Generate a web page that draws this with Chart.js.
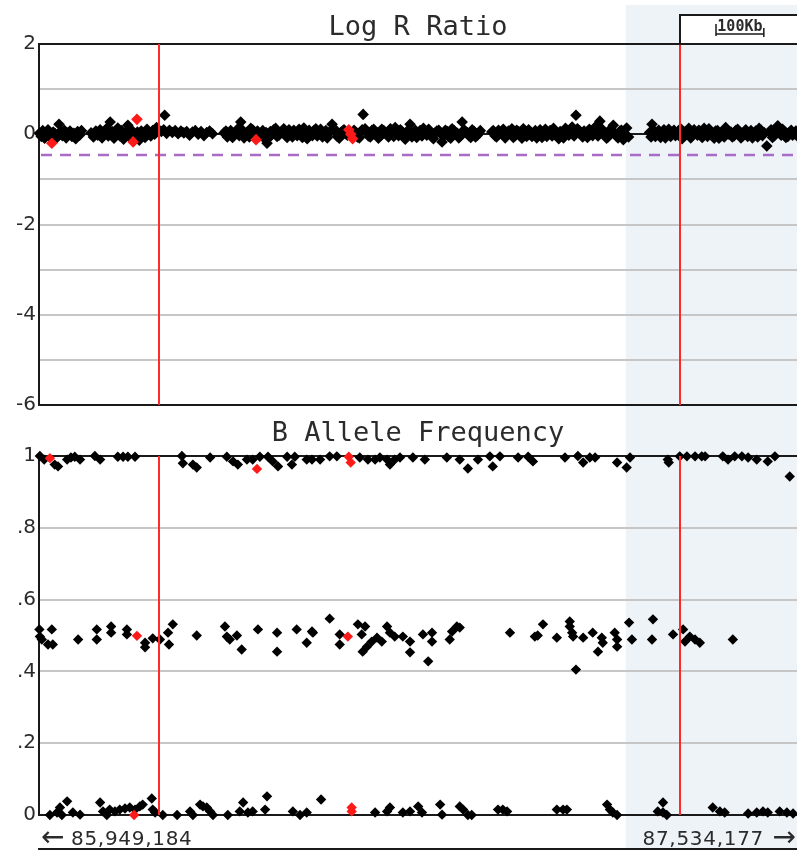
<!DOCTYPE html>
<html>
<head>
<meta charset="utf-8">
<script src="https://cdn.jsdelivr.net/npm/chart.js@4.4.1/dist/chart.umd.min.js"></script>
<style>
  html, body { margin: 0; padding: 0; background: #fff; }
  #wrap { position: relative; width: 797px; height: 852px; overflow: hidden; }
  canvas { position: absolute; left: 0; }
  #lrr { top: 0; }
  #baf { top: 420px; }
</style>
</head>
<body>
<div id="wrap">
  <canvas id="lrr" width="797" height="420"></canvas>
  <canvas id="baf" width="797" height="432"></canvas>
</div>
<script>
// Genomic window (kb)
const windowStart = 85949.184;
const windowEnd = 87534.177;

// Breakpoint markers and highlighted segment (kb)
const markerPositions = [86200, 87289];
const highlightRegion = [87176, 87560];

// Log R Ratio threshold
const lrrThreshold = -0.46;

// Axis tick labels
const lrrTickLabels = [2, 0, -2, -4, -6];
const bafTickLabels = ['0', '.2', '.4', '.6', '.8', '1'];

// Scale bar length (kb)
const scaleBarKb = 100;

// Log R Ratio probes [position kb, value]
const lrrPoints = [
  [85950,0.02],[85954,-0.05],[85957,0.08],[85961,-0.09],[85964,0.04],[85968,0.10],[85972,-0.04],[85976,-0.11],
  [85979,0.05],[85983,0.01],[85987,-0.07],[85991,0.22],[85994,0.06],[85998,-0.03],[86002,0.09],[86006,-0.08],
  [86010,0.03],[86014,0.07],[86018,-0.05],[86022,0.02],[86026,-0.10],[86030,0.06],[86034,-0.02],[86038,0.08],
  [86058,0.03],[86063,-0.06],[86068,0.07],[86072,-0.02],[86077,0.10],[86081,-0.08],[86086,0.05],[86090,0.12],
  [86094,-0.04],[86098,0.27],[86102,0.06],[86106,-0.09],[86110,0.03],[86114,0.14],[86118,-0.03],[86122,0.08],
  [86126,-0.11],[86130,0.04],[86135,0.20],[86139,-0.06],[86143,0.09],[86147,0.01],[86151,-0.10],[86155,0.05],
  [86159,-0.13],[86163,0.07],[86167,0.02],[86171,-0.07],[86175,0.11],[86179,0.03],[86183,-0.04],[86187,0.08],
  [86191,0.00],[86195,0.15],
  [86205,0.06],[86210,0.10],[86212,0.42],[86216,0.02],[86222,0.09],[86228,0.04],[86234,0.08],[86240,0.01],
  [86246,0.07],[86252,0.03],[86258,0.06],[86264,-0.02],[86270,0.05],[86276,0.08],[86282,0.00],[86288,0.06],
  [86294,-0.03],[86300,0.04],[86306,0.07],[86312,0.01],
  [86336,0.03],[86343,-0.06],[86350,0.08],[86357,-0.02],[86364,0.11],[86371,0.27],[86378,-0.08],[86385,0.05],
  [86392,0.13],[86399,-0.04],[86406,0.07],[86413,0.01],[86420,-0.09],[86426,-0.20],[86433,0.06],[86440,0.10],
  [86447,-0.05],[86454,0.04],[86461,0.12],[86468,-0.07],[86475,0.02],[86482,0.09],[86489,-0.03],[86496,0.06],
  [86503,0.14],[86510,-0.10],[86517,0.03],[86524,0.08],[86531,-0.04],[86538,0.11],[86545,0.00],[86552,-0.08],
  [86559,0.07],[86562,0.22],[86566,0.13],[86573,-0.05],[86580,0.04],[86587,0.10],[86594,-0.02],[86608,0.09],
  [86615,-0.06],[86622,0.05],[86627,0.44],[86631,0.12],[86638,-0.04],[86645,0.08],[86652,0.02],[86659,-0.09],
  [86666,0.11],[86673,0.04],[86680,-0.06],[86687,0.09],[86694,0.15],[86701,-0.03],[86708,0.06],[86715,-0.11],
  [86722,0.10],[86725,0.22],[86732,0.03],[86739,-0.07],[86746,0.08],[86753,0.13],[86760,-0.02],[86767,0.05],
  [86774,-0.10],[86781,0.07],[86788,0.02],[86792,-0.17],[86799,0.09],[86806,-0.05],[86813,0.12],[86820,0.04],
  [86827,-0.08],[86834,0.27],[86841,0.06],[86848,-0.03],[86855,0.10],[86862,-0.06],[86869,0.04],
  [86340,0.07],[86347,0.01],[86354,-0.07],[86361,0.05],[86368,-0.03],[86375,0.09],[86382,0.02],[86389,-0.06],
  [86396,0.10],[86403,0.03],[86410,-0.05],[86417,0.08],[86424,0.04],[86430,-0.08],[86437,0.01],[86444,0.13],
  [86451,-0.02],[86458,0.07],[86465,0.00],[86472,0.10],[86479,-0.06],[86486,0.04],[86493,0.11],[86500,-0.07],
  [86507,0.05],[86514,0.09],[86521,-0.03],[86528,0.12],[86535,0.02],[86542,-0.06],[86549,0.08],[86556,0.03],
  [86570,0.06],[86577,-0.09],[86584,0.07],[86591,0.01],[86612,0.04],[86619,-0.08],[86625,0.10],[86635,0.06],
  [86642,-0.06],[86649,0.11],[86656,0.03],[86663,-0.04],[86670,0.08],[86677,0.00],[86684,0.12],[86691,-0.05],
  [86698,0.06],[86705,0.10],[86712,-0.02],[86719,0.04],[86729,-0.06],[86736,0.09],[86743,0.01],[86750,-0.04],
  [86757,0.07],[86764,0.11],[86771,-0.06],[86778,0.03],[86785,0.09],[86796,-0.03],[86803,0.06],[86810,-0.09],
  [86817,0.08],[86824,0.02],[86831,-0.04],[86838,0.10],[86845,0.03],[86852,-0.07],[86859,0.06],[86866,-0.02],
  [86872,0.08],
  [86896,0.05],[86903,-0.04],[86910,0.09],[86917,0.01],[86924,-0.08],[86931,0.07],[86938,0.12],[86945,-0.03],
  [86952,0.06],[86959,-0.09],[86966,0.04],[86973,0.10],[86980,-0.05],[86987,0.08],[86994,0.02],[87001,-0.07],
  [87008,0.11],[87015,0.03],[87022,-0.04],[87029,0.07],[87036,-0.10],[87043,0.05],[87050,0.13],[87057,-0.02],
  [87064,0.16],[87072,0.42],[87079,0.08],[87086,-0.06],[87093,0.04],[87100,0.11],[87107,-0.03],[87114,0.18],
  [87122,0.29],[87129,0.06],[87136,-0.09],[87143,0.10],[87150,0.20],[87157,-0.05],[87164,0.07],[87171,-0.12],
  [87178,0.14],
  [86899,0.08],[86906,-0.06],[86913,0.03],[86920,0.11],[86927,-0.02],[86934,0.05],[86941,-0.07],[86948,0.09],
  [86955,0.02],[86962,0.12],[86969,-0.05],[86976,0.06],[86983,0.01],[86990,-0.08],[86997,0.10],[87004,0.04],
  [87011,-0.05],[87018,0.08],[87025,0.13],[87032,-0.02],[87039,0.06],[87046,-0.08],[87053,0.09],[87060,0.03],
  [87068,-0.04],[87075,0.12],[87082,0.01],[87089,0.07],[87096,-0.07],[87103,0.05],[87110,0.10],[87118,-0.04],
  [87125,0.13],[87132,0.02],[87139,-0.06],[87146,0.08],[87153,0.03],[87160,-0.08],[87167,0.09],[87174,0.01],
  [87182,-0.06],
  [87226,0.04],[87231,0.22],[87238,-0.05],[87245,0.09],[87252,0.02],[87259,-0.08],[87266,0.11],[87273,0.05],
  [87280,-0.03],[87287,0.08],[87294,-0.10],[87301,0.06],[87308,0.13],[87315,-0.04],[87322,0.03],[87329,0.09],
  [87336,-0.07],[87343,0.05],[87350,0.12],[87357,-0.02],[87364,0.07],[87371,-0.09],[87378,0.04],[87385,0.15],
  [87392,0.00],[87399,-0.06],[87406,0.08],[87413,0.03],[87420,-0.05],[87427,0.10],[87434,0.02],[87441,-0.08],
  [87448,0.07],[87455,0.13],[87462,-0.03],[87471,-0.26],[87476,0.05],[87483,-0.07],[87490,0.08],[87494,0.19],
  [87501,-0.02],[87508,0.06],[87515,-0.05],[87522,0.09],[87529,0.01],[87535,-0.04],
  [87229,-0.06],[87235,0.08],[87242,0.02],[87249,-0.07],[87256,0.10],[87263,0.03],[87270,-0.05],[87277,0.09],
  [87284,0.01],[87291,0.12],[87298,-0.04],[87305,0.05],[87312,-0.08],[87319,0.10],[87326,-0.02],[87333,0.06],
  [87340,0.13],[87347,-0.05],[87354,0.03],[87361,-0.09],[87368,0.08],[87375,0.02],[87382,-0.06],[87389,0.09],
  [87396,0.05],[87403,-0.03],[87410,0.11],[87417,-0.08],[87424,0.04],[87431,-0.05],[87438,0.08],[87445,0.01],
  [87452,-0.06],[87459,0.09],[87466,0.03],[87480,0.10],[87487,-0.03],[87497,0.05],[87504,0.11],[87511,-0.07],
  [87518,0.03],[87525,-0.02],[87532,0.07]
];

// Highlighted (selected) probes in the Log R Ratio track
const lrrSelected = [
  [85976,-0.20],[86146,-0.17],[86154,0.33],[86403,-0.12],[86597,0.10],[86601,0.00],[86605,-0.10]
];

// B Allele Frequency probes [position kb, value]
const bafPoints = [
  // homozygous B
  [85951,1.0],[85960,0.99],[85982,0.976],[85989,0.971],[86008,0.99],[86016,0.996],[86024,0.998],[86035,0.99],
  [86066,1.0],[86077,0.99],[86114,0.998],[86125,0.998],[86135,0.998],[86150,0.998],
  [86248,1.0],[86250,0.98],[86271,0.976],[86279,0.968],[86307,0.996],[86342,0.998],[86355,0.985],[86365,0.976],
  [86384,0.99],[86396,0.99],[86411,0.998],[86428,0.998],[86438,0.985],[86449,0.971],[86468,0.998],[86478,0.976],
  [86484,0.998],[86509,0.99],[86520,0.99],[86537,0.99],[86557,0.999],[86572,0.999],[86620,0.996],[86637,0.99],
  [86652,0.99],[86662,0.996],[86677,0.99],[86683,0.976],[86693,0.99],[86704,0.996],[86731,0.996],[86756,0.99],
  [86802,0.996],[86829,0.99],[86846,0.965],[86867,0.99],[86892,0.999],[86898,0.971],[86913,0.999],[86951,0.996],
  [86972,0.998],[86982,0.985],[87049,0.996],[87076,1.0],[87087,0.982],[87101,0.996],[87112,0.996],[87158,0.982],
  [87178,0.968],[87185,0.996],[87264,0.99],[87266,0.982],[87289,0.999],[87304,0.999],[87321,0.999],[87335,0.999],
  [87342,0.999],[87379,0.999],[87390,0.99],[87404,0.999],[87419,0.999],[87432,0.996],[87450,0.99],[87473,0.985],
  [87488,0.999],[87519,0.943],
  // heterozygous AB
  [85950,0.517],[85951,0.497],[85955,0.489],[85968,0.475],[85976,0.517],[85978,0.475],[86031,0.489],[86070,0.517],
  [86070,0.489],[86100,0.525],[86100,0.508],[86133,0.517],[86133,0.503],[86171,0.48],[86171,0.467],[86187,0.492],
  [86202,0.489],[86219,0.508],[86221,0.475],[86229,0.531],[86279,0.50],[86338,0.525],[86342,0.497],[86348,0.489],
  [86363,0.50],[86373,0.461],[86407,0.517],[86447,0.508],[86447,0.455],[86488,0.517],[86509,0.48],[86520,0.511],
  [86522,0.508],[86557,0.547],[86578,0.503],[86578,0.475],[86616,0.531],[86624,0.503],[86626,0.455],[86631,0.525],
  [86635,0.469],[86645,0.483],[86656,0.494],[86666,0.483],[86677,0.525],[86683,0.508],[86693,0.497],[86710,0.497],
  [86725,0.483],[86725,0.453],[86752,0.503],[86763,0.428],[86771,0.508],[86771,0.483],[86808,0.489],[86813,0.511],
  [86823,0.525],[86829,0.522],[86934,0.508],[86986,0.497],[86992,0.50],[87003,0.531],[87032,0.494],[87059,0.539],
  [87059,0.525],[87064,0.508],[87066,0.497],[87072,0.405],[87087,0.494],[87107,0.508],[87118,0.455],[87126,0.494],
  [87128,0.48],[87153,0.508],[87158,0.489],[87158,0.469],[87183,0.536],[87189,0.489],[87231,0.489],[87233,0.545],
  [87275,0.503],[87296,0.517],[87300,0.483],[87310,0.497],[87321,0.489],[87331,0.48],[87400,0.489],
  // homozygous A
  [85972,0],[85987,0.007],[85993,0.021],[85997,0],[86008,0.038],[86020,0.007],[86035,0.001],[86077,0.035],
  [86083,0.01],[86091,0],[86097,0.015],[86108,0.01],[86118,0.015],[86129,0.018],[86139,0.021],[86150,0.015],
  [86160,0.024],[86166,0.029],[86185,0.046],[86187,0.015],[86192,0.007],[86208,0],[86238,0],[86265,0.01],
  [86271,0],[86286,0.029],[86292,0.024],[86300,0.021],[86307,0.01],[86313,0],[86344,0],[86369,0.01],
  [86376,0.035],[86386,0.007],[86396,0.01],[86422,0.015],[86426,0.052],[86480,0.01],[86495,0],[86509,0.007],
  [86539,0.043],[86652,0.007],[86677,0.01],[86683,0.021],[86710,0.007],[86725,0.01],[86742,0.024],[86750,0.007],
  [86788,0.029],[86792,0.001],[86829,0.024],[86836,0.015],[86846,0],[86854,0],[86909,0.015],[86919,0.015],
  [86928,0.01],[87032,0.015],[87045,0.015],[87053,0.015],[87137,0.029],[87143,0.015],[87149,0.007],[87158,0],
  [87243,0.01],[87254,0.035],[87254,0.007],[87262,0],[87358,0.021],[87373,0.01],[87383,0.007],[87432,0.004],
  [87450,0.007],[87463,0.01],[87473,0.007],[87498,0.01],[87513,0.007],[87526,0.004]
];

// Highlighted (selected) probes in the B Allele Frequency track
const bafSelected = [
  [85972,0.994],[86405,0.964],[86597,0.998],[86601,0.982],[86154,0.499],[86595,0.497],
  [86148,0],[86603,0.021],[86603,0.010]
];

const toXY = arr => arr.map(([x, y]) => ({ x, y }));

const TEXT = '#2b2b2b';
const GRID = '#c6c6c6';
const AXIS = '#1a1a1a';

// Shared decorations: highlighted segment, breakpoint lines, titles, labels
const trackDecor = {
  id: 'trackDecor',
  beforeDraw(chart, args, o) {
    const { ctx, scales: { x } } = chart;
    const x0 = x.getPixelForValue(highlightRegion[0]);
    const x1 = x.getPixelForValue(highlightRegion[1]);
    ctx.save();
    ctx.fillStyle = '#eef3f8';
    ctx.fillRect(x0, o.shadeTop, x1 - x0, o.shadeBottom - o.shadeTop);
    ctx.restore();
  },
  beforeDatasetsDraw(chart, args, o) {
    if (o.threshold == null) return;
    const { ctx, chartArea, scales: { y } } = chart;
    const py = y.getPixelForValue(o.threshold);
    ctx.save();
    ctx.strokeStyle = '#a86cc6';
    ctx.lineWidth = 2.5;
    ctx.setLineDash([11, 8]);
    ctx.beginPath();
    ctx.moveTo(chartArea.left + 2, py);
    ctx.lineTo(chartArea.right, py);
    ctx.stroke();
    ctx.restore();
  },
  afterDatasetsDraw(chart) {
    const { ctx, chartArea, scales: { x } } = chart;
    ctx.save();
    ctx.strokeStyle = '#ff2a2a';
    ctx.lineWidth = 2;
    markerPositions.forEach(p => {
      const px = Math.round(x.getPixelForValue(p));
      ctx.beginPath();
      ctx.moveTo(px, chartArea.top);
      ctx.lineTo(px, chartArea.bottom);
      ctx.stroke();
    });
    ctx.restore();
  },
  afterDraw(chart, args, o) {
    const { ctx, chartArea, scales: { x } } = chart;
    ctx.save();
    // track title
    ctx.fillStyle = TEXT;
    ctx.font = '27px "DejaVu Sans Mono"';
    ctx.textAlign = 'center';
    ctx.textBaseline = 'alphabetic';
    ctx.fillText(o.title, (chartArea.left + chartArea.right) / 2, o.titleBaseline);

    if (o.scaleBar) {
      // scale bar box
      const bx = Math.round(x.getPixelForValue(markerPositions[1]));
      ctx.fillStyle = '#ffffff';
      ctx.fillRect(bx, 15, 797 - bx + 10, chartArea.top - 15);
      ctx.strokeStyle = AXIS;
      ctx.lineWidth = 2;
      ctx.strokeRect(bx, 15, 797 - bx + 10, chartArea.top - 15);
      const s0 = 716;
      const len = x.getPixelForValue(windowStart + scaleBarKb) - x.getPixelForValue(windowStart);
      ctx.lineWidth = 1.5;
      ctx.beginPath();
      ctx.moveTo(s0, 24); ctx.lineTo(s0, 36);
      ctx.moveTo(s0, 34); ctx.lineTo(s0 + len, 34);
      ctx.moveTo(s0 + len, 28); ctx.lineTo(s0 + len, 37);
      ctx.stroke();
      ctx.fillStyle = TEXT;
      ctx.font = 'bold 15px "DejaVu Sans Mono"';
      ctx.textAlign = 'center';
      ctx.fillText(scaleBarKb + 'Kb', s0 + len / 2, 31);
    }

    if (o.footer) {
      const fmt = v => Math.round(v * 1000).toLocaleString('en-US');
      ctx.fillStyle = TEXT;
      ctx.textBaseline = 'alphabetic';
      const base = o.footerBaseline;
      // left end
      ctx.textAlign = 'left';
      ctx.font = '28px "DejaVu Sans"';
      ctx.fillText('\u2190', 41, base + 1);
      ctx.font = '20px "DejaVu Sans"';
      ctx.letterSpacing = '0.7px';
      ctx.fillText(fmt(windowStart), 71, base);
      // right end
      ctx.textAlign = 'right';
      ctx.fillText(fmt(windowEnd), 764, base);
      ctx.letterSpacing = '0px';
      ctx.font = '28px "DejaVu Sans"';
      ctx.fillText('\u2192', 796, base + 1);
      // lower frame line
      ctx.strokeStyle = AXIS;
      ctx.lineWidth = 2;
      ctx.beginPath();
      ctx.moveTo(chartArea.left - 1, o.frameY);
      ctx.lineTo(797, o.frameY);
      ctx.stroke();
    }
    ctx.restore();
  }
};

function yAxis(min, max, step, labelFor, isFrame) {
  return {
    min, max,
    afterFit(scale) { scale.width = 39; },
    ticks: {
      stepSize: step,
      autoSkip: false,
      padding: 3,
      color: TEXT,
      font: { family: 'DejaVu Sans', size: 20 },
      callback: labelFor
    },
    grid: {
      drawTicks: false,
      lineWidth: 2,
      color: c => (c.tick && isFrame(c.tick.value)) ? AXIS : GRID
    },
    border: { display: true, color: AXIS, width: 2 }
  };
}

const xAxis = {
  type: 'linear',
  min: windowStart,
  max: windowEnd,
  display: false
};

function scatterSets(all, selected, r) {
  return [
    { data: toXY(selected), backgroundColor: '#ff1a1a', pointStyle: 'rectRot', pointRadius: r, borderWidth: 0, order: 0 },
    { data: toXY(all), backgroundColor: '#000000', pointStyle: 'rectRot', pointRadius: r, borderWidth: 0, order: 1 }
  ];
}

const common = {
  responsive: false,
  animation: false,
  events: [],
  clip: false
};

new Chart(document.getElementById('lrr'), {
  type: 'scatter',
  data: { datasets: scatterSets(lrrPoints, lrrSelected, 5.8) },
  plugins: [trackDecor],
  options: {
    ...common,
    layout: { autoPadding: false, padding: { top: 44, bottom: 15, left: 0, right: 0 } },
    scales: {
      x: xAxis,
      y: yAxis(-6, 2, 1,
        v => lrrTickLabels.includes(v) ? String(v) : '',
        v => v === 0 || v === 2 || v === -6)
    },
    plugins: {
      legend: { display: false },
      tooltip: { enabled: false },
      trackDecor: {
        title: 'Log R Ratio', titleBaseline: 35,
        shadeTop: 5, shadeBottom: 420,
        threshold: lrrThreshold, scaleBar: true
      }
    }
  }
});

new Chart(document.getElementById('baf'), {
  type: 'scatter',
  data: { datasets: scatterSets(bafPoints, bafSelected, 5.2) },
  plugins: [trackDecor],
  options: {
    ...common,
    layout: { autoPadding: false, padding: { top: 36, bottom: 37, left: 0, right: 0 } },
    scales: {
      x: xAxis,
      y: yAxis(0, 1, 0.2,
        (v, i) => bafTickLabels[i],
        v => Math.abs(v) < 1e-9 || Math.abs(v - 1) < 1e-9)
    },
    plugins: {
      legend: { display: false },
      tooltip: { enabled: false },
      trackDecor: {
        title: 'B Allele Frequency', titleBaseline: 21,
        shadeTop: 0, shadeBottom: 428,
        threshold: null, scaleBar: false,
        footer: true, footerBaseline: 425, frameY: 429
      }
    }
  }
});
</script>
</body>
</html>
